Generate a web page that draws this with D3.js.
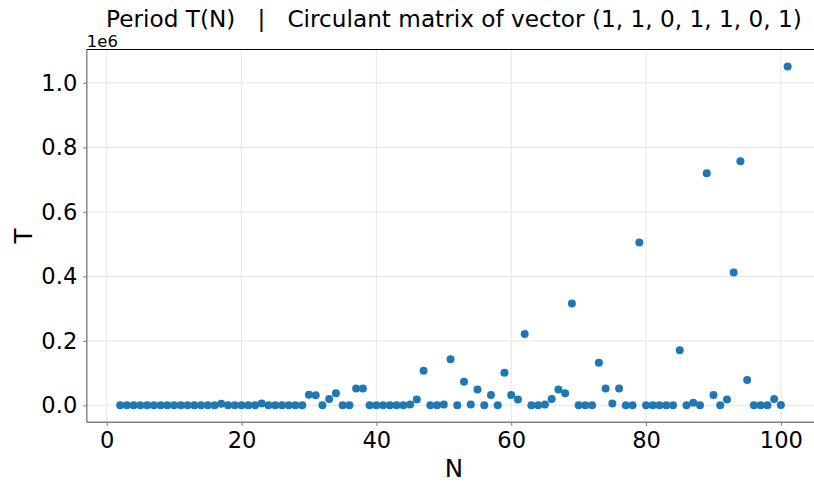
<!DOCTYPE html>
<html>
<head>
<meta charset="utf-8">
<script src="https://cdn.jsdelivr.net/npm/d3@7"></script>
<style>
  html, body { margin: 0; padding: 0; background: #fff; }
  svg { display: block; font-family: "DejaVu Sans", sans-serif; }
</style>
</head>
<body>
<svg id="chart" width="814" height="485"></svg>
<script>
// ---- Data ----
const N = d3.range(2, 102); // 2..101
// T values in units of 1e6
const T_e6 = [
  0, 0, 0, 0, 0, 0, 0, 0, 0, 0, 0, 0, 0, 0, 0,          // 2-16
  0.005, 0, 0, 0, 0, 0, 0.006, 0, 0, 0, 0, 0, 0,         // 17-29
  0.033, 0.031, 0, 0.020, 0.0375, 0, 0, 0.052, 0.052,    // 30-38
  0, 0, 0, 0, 0, 0, 0.003, 0.018, 0.1075, 0, 0, 0.003,   // 39-50
  0.143, 0, 0.073, 0.003, 0.049, 0, 0.032, 0, 0.101,     // 51-59
  0.032, 0.018, 0.221, 0, 0, 0.003, 0.020, 0.049, 0.0375,// 60-68
  0.316, 0, 0, 0, 0.132, 0.052, 0.006, 0.052, 0, 0,      // 69-78
  0.505, 0, 0, 0, 0, 0, 0.171, 0, 0.008, 0,              // 79-88
  0.720, 0.032, 0, 0.018, 0.412, 0.757, 0.079,           // 89-95
  0, 0, 0, 0.020, 0.001, 1.051                           // 96-101
];
const T = T_e6.map(v => v * 1e6);
const xTicks = [0, 20, 40, 60, 80, 100];
const yTicks = [0, 0.2e6, 0.4e6, 0.6e6, 0.8e6, 1.0e6];
const yTickLabels = ["0.0", "0.2", "0.4", "0.6", "0.8", "1.0"];
const titleText = "Period T(N)   |   Circulant matrix of vector (1, 1, 0, 1, 1, 0, 1)";

const data = N.map((n, i) => ({ n, t: T[i] }));

// ---- Layout ----
const svg = d3.select("#chart");
const L = 86.8, R = 821, Tp = 49.5, B = 422.3;

const xMin = d3.min(N), xMax = d3.max(N), xPad = (xMax - xMin) * 0.05;
const yMin = d3.min(T), yMax = d3.max(T), yPad = (yMax - yMin) * 0.05;

const x = d3.scaleLinear().domain([xMin - xPad, xMax + xPad]).range([L, R]);
const y = d3.scaleLinear().domain([yMin - yPad, yMax + yPad]).range([B, Tp]);

const gridColor = "#e8e8e8";
const spineGray = "#808080";
const fontTick = 22.6;

// grid
const grid = svg.append("g");
grid.selectAll("line.gx").data(xTicks).join("line")
  .attr("x1", d => x(d)).attr("x2", d => x(d))
  .attr("y1", Tp).attr("y2", B)
  .attr("stroke", gridColor).attr("stroke-width", 1.1);
grid.selectAll("line.gy").data(yTicks).join("line")
  .attr("x1", L).attr("x2", R)
  .attr("y1", d => y(d)).attr("y2", d => y(d))
  .attr("stroke", gridColor).attr("stroke-width", 1.1);

// points
svg.append("g").selectAll("circle").data(data).join("circle")
  .attr("cx", d => x(d.n))
  .attr("cy", d => y(d.t))
  .attr("r", 4)
  .attr("fill", "#1f77b4");

// axes
const xAxis = d3.axisBottom(x).tickValues(xTicks).tickSize(3.5).tickPadding(6.5).tickFormat(d3.format("d"));
const gx = svg.append("g").attr("transform", `translate(0,${B})`).call(xAxis);
gx.select(".domain").remove();
gx.selectAll(".tick line").attr("stroke", spineGray).attr("stroke-width", 1.1);
gx.selectAll(".tick text").attr("fill", "#000").attr("font-size", fontTick).attr("font-family", "DejaVu Sans");

const yAxis = d3.axisLeft(y).tickValues(yTicks).tickSize(3.5).tickPadding(6)
  .tickFormat((d, i) => yTickLabels[i]);
const gy = svg.append("g").attr("transform", `translate(${L},0)`).call(yAxis);
gy.select(".domain").remove();
gy.selectAll(".tick line").attr("stroke", spineGray).attr("stroke-width", 1.1);
gy.selectAll(".tick text").attr("fill", "#000").attr("font-size", fontTick).attr("font-family", "DejaVu Sans");

// spines
svg.append("line").attr("x1", L).attr("x2", L).attr("y1", Tp).attr("y2", B)
  .attr("stroke", spineGray).attr("stroke-width", 1.4);
svg.append("line").attr("x1", L).attr("x2", R).attr("y1", B).attr("y2", B)
  .attr("stroke", spineGray).attr("stroke-width", 1.4);
svg.append("line").attr("x1", L).attr("x2", R).attr("y1", Tp).attr("y2", Tp)
  .attr("stroke", "#000").attr("stroke-width", 1.1);
svg.append("line").attr("x1", R).attr("x2", R).attr("y1", Tp).attr("y2", B)
  .attr("stroke", "#000").attr("stroke-width", 1.1);

// offset text
svg.append("text").attr("x", L).attr("y", 46.5)
  .attr("font-size", 16.5).attr("fill", "#000").text("1e6");

// labels
svg.append("text").attr("x", (L + R) / 2).attr("y", 477)
  .attr("text-anchor", "middle").attr("font-size", 24.5).attr("fill", "#000").text("N");
svg.append("text")
  .attr("transform", `translate(32,${(Tp + B) / 2}) rotate(-90)`)
  .attr("text-anchor", "middle").attr("font-size", 24.5).attr("fill", "#000").text("T");

// title
svg.append("text").attr("x", (L + R) / 2).attr("y", 26.7)
  .attr("text-anchor", "middle").attr("font-size", 23.2).attr("fill", "#000")
  .style("white-space", "pre").attr("xml:space", "preserve").text(titleText);
</script>
</body>
</html>
